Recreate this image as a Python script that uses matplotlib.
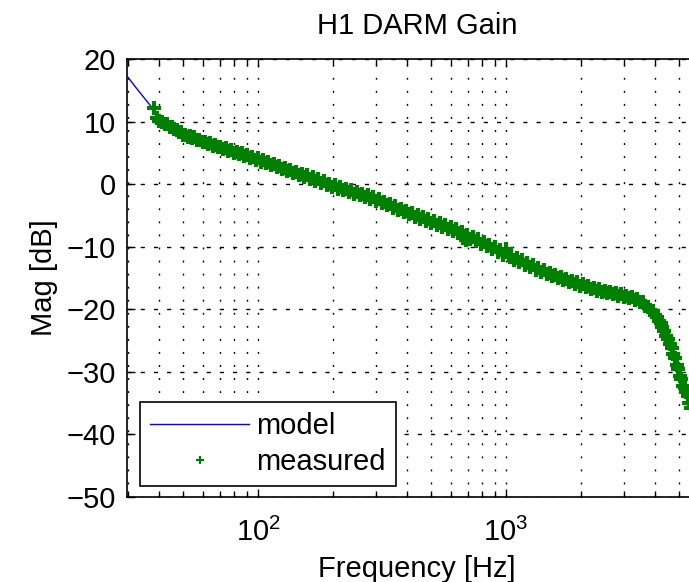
import numpy as np
import matplotlib
matplotlib.use('Agg')
import matplotlib.pyplot as plt
from matplotlib.lines import Line2D

plt.rcParams['font.family'] = ['Liberation Sans', 'DejaVu Sans']
plt.rcParams['mathtext.fontset'] = 'custom'
plt.rcParams['mathtext.rm'] = 'Liberation Sans'
plt.rcParams['mathtext.default'] = 'regular'

# model curve (Hz, dB)
model_f = [29.6, 33, 37.8, 40, 45, 50, 60, 70, 85, 100, 130, 160, 200, 250, 300,
           400, 500, 700, 1000, 1500, 2000, 2500, 3000, 3500, 4000, 4500, 5000,
           5500, 6000, 6500]
model_db = [17.3, 14.9, 12.0, 10.6, 9.2, 8.0, 6.7, 5.8, 4.8, 3.9, 2.3, 0.9, -0.4,
            -1.6, -2.5, -4.5, -6.0, -8.2, -11.4, -14.5, -16.4, -17.4, -18.3, -19.3,
            -21.3, -25.0, -30.2, -35.6, -40.8, -45.8]

# measured points (Hz, dB)
meas_f = [38, 39, 40, 41, 42, 43, 44, 45, 46, 47, 48, 49, 50, 51, 52, 53, 54, 55,
          57, 58, 60, 61, 63, 64, 66, 67, 69, 70, 72, 74, 76, 78, 80, 82, 84, 86,
          88, 90, 93, 95, 98, 100, 103, 105, 108, 110, 113, 116, 119, 122, 125,
          128, 131, 135, 138, 142, 146, 150, 154, 158, 162, 166, 170, 175, 180,
          184, 189, 194, 199, 204, 210, 215, 220, 226, 232, 238, 244, 250, 257,
          263, 270, 277, 284, 292, 300, 307, 315, 323, 332, 340, 349, 358, 367,
          377, 387, 397, 407, 418, 429, 440, 451, 463, 475, 487, 500, 513, 527,
          540, 554, 568, 583, 598, 614, 630, 646, 663, 672, 680, 689, 698, 716,
          735, 754, 773, 793, 814, 835, 857, 879, 902, 926, 950, 975, 1000, 1035,
          1050, 1078, 1105, 1132, 1160, 1190, 1220, 1250, 1285, 1318, 1350, 1385,
          1420, 1460, 1500, 1540, 1580, 1620, 1660, 1705, 1750, 1795, 1840, 1890,
          1940, 1990, 2040, 2095, 2150, 2205, 2260, 2320, 2380, 2440, 2500, 2565,
          2630, 2700, 2770, 2840, 2910, 2985, 3060, 3140, 3220, 3300, 3390, 3475,
          3560, 3650, 3750, 3825, 3900, 3975, 4050, 4125, 4200, 4275, 4350, 4425,
          4500, 4575, 4650, 4725, 4800, 4875, 4950, 5025, 5100, 5175, 5250, 5325,
          5400, 5475, 5550]
meas_db = [12.2, 10.6, 10.1, 10.0, 9.6, 9.6, 9.2, 9.1, 8.8, 8.7, 8.3, 8.3, 7.9,
           7.9, 7.6, 7.7, 7.4, 7.5, 7.1, 7.1, 6.7, 6.8, 6.4, 6.5, 6.1, 6.2, 5.9,
           6.0, 5.6, 5.7, 5.3, 5.4, 5.0, 5.2, 4.8, 4.9, 4.5, 4.7, 4.2, 4.4, 3.9,
           4.1, 3.6, 3.8, 3.3, 3.5, 3.0, 3.2, 2.7, 2.9, 2.4, 2.6, 2.1, 2.3, 1.8,
           2.0, 1.5, 1.7, 1.1, 1.4, 0.8, 1.1, 0.5, 0.8, 0.2, 0.5, -0.1, 0.1, -0.4,
           -0.2, -0.7, -0.5, -1.0, -0.8, -1.3, -1.0, -1.5, -1.3, -1.8, -1.5, -2.0,
           -1.8, -2.3, -2.1, -2.7, -2.4, -3.0, -2.8, -3.4, -3.1, -3.8, -3.5, -4.1,
           -3.9, -4.5, -4.3, -4.8, -4.6, -5.2, -4.9, -5.5, -5.3, -5.9, -5.6, -6.2,
           -5.9, -6.5, -6.2, -6.8, -6.5, -7.1, -6.9, -7.5, -7.2, -7.8, -7.6, -8.6,
           -8.3, -8.9, -8.2, -8.7, -8.4, -9.1, -8.8, -9.5, -9.2, -9.9, -9.7, -10.4,
           -10.1, -10.9, -10.6, -11.3, -10.3, -11.6, -11.4, -12.1, -11.8, -12.5,
           -12.2, -12.9, -12.6, -13.3, -13.0, -13.7, -13.4, -14.1, -13.8, -14.4,
           -14.2, -14.7, -14.5, -15.0, -14.8, -15.3, -15.1, -15.6, -15.4, -15.9,
           -15.7, -16.2, -16.0, -16.5, -16.3, -16.8, -16.6, -17.0, -16.8, -17.2,
           -17.0, -17.4, -17.2, -17.6, -17.4, -17.8, -17.6, -18.0, -17.8, -18.2,
           -18.0, -18.5, -18.3, -18.9, -18.8, -19.5, -19.6, -20.1, -20.3, -20.9,
           -21.2, -21.8, -22.2, -22.9, -23.4, -24.2, -24.7, -25.6, -26.2, -27.2,
           -27.8, -28.9, -29.5, -30.6, -31.2, -32.3, -32.5, -33.2, -33.9, -35.0,
           -35.8]

fig = plt.figure(figsize=(6.89, 5.82), dpi=100)
ax = fig.add_axes([127 / 689, 85 / 582, 580 / 689, 438 / 582])

ax.plot(model_f, model_db, color='blue', lw=1.0, zorder=3)
ax.plot(meas_f, meas_db, ls='none', marker='+', ms=10.5, mew=3.0,
        color=(0, 0.5, 0), zorder=4)

ax.set_xscale('log')
ax.set_xlim(29.64, 6465)
ax.set_ylim(-50, 20)
ax.set_yticks(np.arange(-50, 21, 10))
ax.set_xticks([100, 1000])
ax.set_xticklabels(['$10^{2}$', '$10^{3}$'])

ax.grid(True, which='major', axis='y', color='k', lw=1.0, ls=(0, (3, 6.5)))
ax.grid(True, which='both', axis='x', color='k', lw=1.0, ls=(0, (1.4, 8)))

ax.tick_params(which='both', direction='in', top=True, right=True,
               labelsize=21)
ax.tick_params(which='major', length=6, width=1)
ax.tick_params(which='minor', length=4, width=1)
ax.tick_params(axis='x', pad=15)
ax.tick_params(axis='y', pad=8)
for s in ax.spines.values():
    s.set_linewidth(1.2)

ax.set_title('H1 DARM Gain', fontsize=21, pad=18)
ax.set_xlabel('Frequency [Hz]', fontsize=21, labelpad=6)
ax.set_ylabel('Mag [dB]', fontsize=21, labelpad=6)

handles = [Line2D([], [], color='blue', lw=1.0),
           Line2D([], [], ls='none', marker='+', ms=6, mew=1.6,
                  color=(0, 0.5, 0))]
leg = ax.legend(handles, ['model', 'measured'], loc='lower left',
                bbox_to_anchor=(0.022, 0.025), borderaxespad=0, fontsize=21,
                handlelength=3.4, handletextpad=0.25, labelspacing=0.27,
                borderpad=0.35, fancybox=False, framealpha=1, edgecolor='k')
leg.get_frame().set_linewidth(1.2)

fig.savefig('out.png', dpi=100)
